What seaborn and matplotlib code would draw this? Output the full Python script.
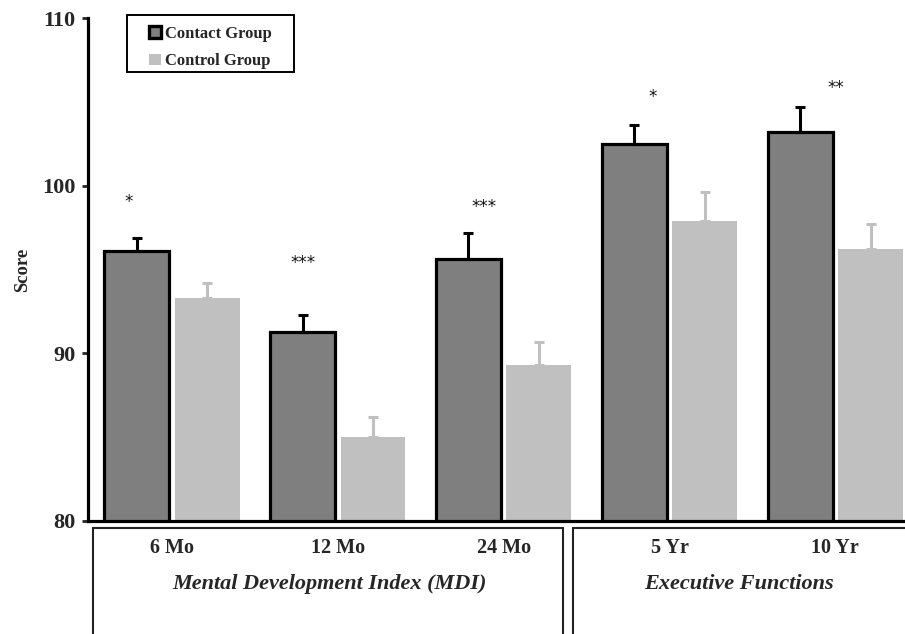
import numpy as np
import pandas as pd
import matplotlib
matplotlib.use("Agg")
import matplotlib.pyplot as plt
import seaborn as sns
from matplotlib.patches import Patch, Rectangle
from matplotlib.transforms import blended_transform_factory

# values
timepoints = ["6 Mo", "12 Mo", "24 Mo", "5 Yr", "10 Yr"]
groups = ["Contact Group", "Control Group"]
contact_mean = [96.1, 91.3, 95.65, 102.5, 103.2]
contact_err = [0.8, 1.0, 1.5, 1.1, 1.5]
control_mean = [93.3, 85.0, 89.3, 97.9, 96.2]
control_err = [0.9, 1.2, 1.4, 1.7, 1.5]
stars = ["*", "***", "***", "*", "**"]
star_y = [99.0, 95.4, 98.7, 105.3, 105.8]
star_dx = [-0.26, -0.21, -0.12, -0.10, 0.0]
domains = ["Mental Development Index (MDI)", "Executive Functions"]

df = pd.DataFrame({
    "time": timepoints * 2,
    "group": [groups[0]] * 5 + [groups[1]] * 5,
    "score": contact_mean + control_mean,
})

sns.set_style("white")
plt.rcParams["font.family"] = ["Liberation Serif", "DejaVu Serif"]

fig = plt.figure(figsize=(9.05, 6.34), dpi=100)
ax = fig.add_axes([88 / 905, 1 - 521 / 634, 1 - 88 / 905, (521 - 18) / 634])

dark = "#7f7f7f"
light = "#c0c0c0"
sns.barplot(data=df, x="time", y="score", hue="group", order=timepoints,
            hue_order=groups, palette=[dark, light], width=0.85, gap=0.08,
            errorbar=None, ax=ax, legend=False)

# contact bars get thick black edges
for bar in ax.containers[0]:
    bar.set_edgecolor("black")
    bar.set_linewidth(2.3)
for bar in ax.containers[1]:
    bar.set_edgecolor("none")

# upward-only error bars
for cont, means, errs, col in [(ax.containers[0], contact_mean, contact_err, "black"),
                               (ax.containers[1], control_mean, control_err, light)]:
    xs = [b.get_x() + b.get_width() / 2 for b in cont]
    ax.errorbar(xs, means, yerr=[np.zeros(len(errs)), errs], fmt="none",
                ecolor=col, elinewidth=2.2, capsize=3.5, capthick=2.2, zorder=1)

for i, (s, y, dx) in enumerate(zip(stars, star_y, star_dx)):
    ax.text(i + dx, y, s, ha="center", va="center", fontsize=12,
            family="DejaVu Sans", color="#111111")

ax.set_ylim(80, 110)
ax.set_xlim(-0.506, 4.42)
ax.set_yticks([80, 90, 100, 110])
ax.set_xlabel("")
ax.set_ylabel("Score", fontsize=13.5, fontweight="bold", labelpad=8)
ax.tick_params(axis="y", direction="out", length=4, width=2, left=True,
               labelsize=16, pad=5)
ax.tick_params(axis="x", length=0, labelsize=14.5, pad=12)
for lab in ax.get_xticklabels() + ax.get_yticklabels():
    lab.set_fontweight("bold")

sns.despine(ax=ax, top=True, right=True)
ax.spines["left"].set_linewidth(2.3)
ax.spines["bottom"].set_linewidth(2.3)
ax.spines["left"].set_color("black")
ax.spines["bottom"].set_color("black")

# boxes under the axis grouping the timepoints
trans = blended_transform_factory(ax.transData, ax.transAxes)
for x0, x1 in [(-0.477, 2.36), (2.42, 5.0)]:
    ax.add_patch(Rectangle((x0, -0.4), x1 - x0, 0.4 - 0.014, transform=trans,
                           fill=False, edgecolor="#222222", linewidth=1.5,
                           clip_on=False))
for xc, name in zip([0.95, 3.42], domains):
    ax.text(xc, -0.125, name, transform=trans, ha="center", va="center",
            fontsize=16, fontweight="bold", style="italic")

# legend without its own frame, frame drawn around it separately
handles = [Patch(facecolor=dark, edgecolor="black", linewidth=2.4),
           Patch(facecolor=light, edgecolor="none")]
leg = ax.legend(handles, groups, loc="upper left",
                bbox_to_anchor=(149 / 905, 1 - 26 / 634),
                bbox_transform=fig.transFigure, borderaxespad=0, borderpad=0,
                frameon=False, handlelength=0.7, handleheight=0.7,
                handletextpad=0.25, labelspacing=0.68,
                prop={"weight": "bold", "size": 12})
fig.add_artist(Rectangle((127 / 905, 1 - 72 / 634), 167 / 905, 57 / 634,
                         transform=fig.transFigure, fill=False,
                         edgecolor="black", linewidth=1.4))

fig.savefig("out.png", dpi=100, facecolor="white")
